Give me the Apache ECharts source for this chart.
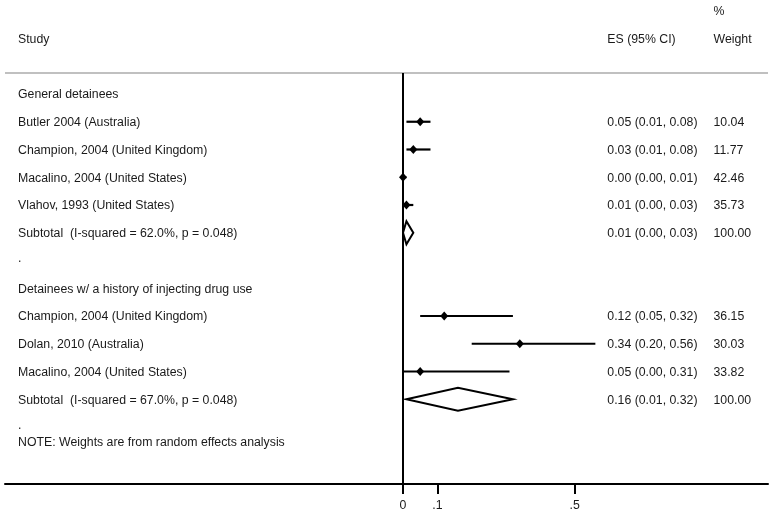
<!DOCTYPE html>
<html><head><meta charset="utf-8">
<script src="https://cdn.jsdelivr.net/npm/echarts@6/dist/echarts.min.js"></script>
<style>html,body{margin:0;padding:0;background:#fff}#c{width:774px;height:516px}</style>
</head><body><div id="c"></div><script>
// ---- data ----
const headerStudy = "Study";
const headerES = "ES (95% CI)";
const headerPct = "%";
const headerWeight = "Weight";
const groupTitles = ["General detainees", "Detainees w/ a history of injecting drug use"];
const studyLabels = [
  "Butler 2004 (Australia)",
  "Champion, 2004 (United Kingdom)",
  "Macalino, 2004 (United States)",
  "Vlahov, 1993 (United States)",
  "Champion, 2004 (United Kingdom)",
  "Dolan, 2010 (Australia)",
  "Macalino, 2004 (United States)"
];
const studyGroup = [0, 0, 0, 0, 1, 1, 1];
const studyES = [0.05, 0.03, 0.00, 0.01, 0.12, 0.34, 0.05];
const studyLo = [0.01, 0.01, 0.00, 0.00, 0.05, 0.20, 0.00];
const studyHi = [0.08, 0.08, 0.01, 0.03, 0.32, 0.56, 0.31];
const studyWeight = ["10.04", "11.77", "42.46", "35.73", "36.15", "30.03", "33.82"];
const subtotalLabels = ["Subtotal  (I-squared = 62.0%, p = 0.048)", "Subtotal  (I-squared = 67.0%, p = 0.048)"];
const subtotalES = [0.01, 0.16];
const subtotalLo = [0.00, 0.01];
const subtotalHi = [0.03, 0.32];
const subtotalWeight = ["100.00", "100.00"];
const noteText = "NOTE: Weights are from random effects analysis";
const tickValues = [0, 0.1, 0.5];
const tickLabels = ["0", ".1", ".5"];

// ---- layout constants ----
const X_MIN = -1.15866, X_MAX = 1.06259;
const Y_MIN = -3.387, Y_MAX = 14.054;
const COL_LEFT = -1.1208, COL_ES = 0.5948, COL_W = 0.904;
const HEADER_LINE_Y = -0.757;
const FONT = "Liberation Sans, Arial, sans-serif";
const FS = 12.3;
const TXT = "#1a1a1a";

// ---- build rows ----
const texts = []; // {x, y, t}
const studyPts = []; // [es, row, lo, hi]
const subPts = [];
texts.push({x: COL_LEFT, y: -2, t: headerStudy});
texts.push({x: COL_ES, y: -2, t: headerES});
texts.push({x: COL_W, y: -3, t: headerPct});
texts.push({x: COL_W, y: -2, t: headerWeight});
let row = 0;
for (let g = 0; g < groupTitles.length; g++) {
  texts.push({x: COL_LEFT, y: row, t: groupTitles[g]}); row++;
  for (let i = 0; i < studyLabels.length; i++) {
    if (studyGroup[i] !== g) continue;
    texts.push({x: COL_LEFT, y: row, t: studyLabels[i]});
    texts.push({x: COL_ES, y: row, t: studyES[i].toFixed(2) + " (" + studyLo[i].toFixed(2) + ", " + studyHi[i].toFixed(2) + ")"});
    texts.push({x: COL_W, y: row, t: studyWeight[i]});
    studyPts.push([studyES[i], row, studyLo[i], studyHi[i]]);
    row++;
  }
  texts.push({x: COL_LEFT, y: row, t: subtotalLabels[g]});
  texts.push({x: COL_ES, y: row, t: subtotalES[g].toFixed(2) + " (" + subtotalLo[g].toFixed(2) + ", " + subtotalHi[g].toFixed(2) + ")"});
  texts.push({x: COL_W, y: row, t: subtotalWeight[g]});
  subPts.push([subtotalES[g], row, subtotalLo[g], subtotalHi[g]]);
  row++;
  texts.push({x: COL_LEFT, y: row - 0.1, t: "."}); row++;
}
texts.push({x: COL_LEFT, y: row - 1 + 0.52, t: noteText});

const chart = echarts.init(document.getElementById('c'));
chart.setOption({
  animation: false,
  backgroundColor: '#fff',
  grid: {left: 5, right: 6, top: 0, bottom: 32},
  xAxis: {
    type: 'value', min: X_MIN, max: X_MAX,
    splitLine: {show: false},
    axisLine: {show: true, onZero: false, lineStyle: {color: '#000', width: 2}},
    axisTick: {show: true, customValues: tickValues, length: 10, lineStyle: {color: '#000', width: 2}},
    axisLabel: {show: true, customValues: tickValues, margin: 16, color: TXT, fontSize: FS, fontFamily: FONT,
      formatter: function (v) { const k = tickValues.findIndex(t => Math.abs(t - v) < 1e-9); return k >= 0 ? tickLabels[k] : ''; }}
  },
  yAxis: {
    type: 'value', min: Y_MIN, max: Y_MAX, inverse: true, show: false, splitLine: {show: false}
  },
  series: [
    { // header rule
      type: 'line', data: [[X_MIN, HEADER_LINE_Y], [X_MAX, HEADER_LINE_Y]], symbol: 'none',
      lineStyle: {color: '#c0c0c0', width: 2}, silent: true, z: 1
    },
    { // null line
      type: 'line', data: [[0, HEADER_LINE_Y], [0, Y_MAX]], symbol: 'none',
      lineStyle: {color: '#000', width: 2}, silent: true, z: 2
    },
    { // studies
      type: 'custom', data: studyPts, z: 3,
      renderItem: function (params, api) {
        const c = api.coord([api.value(0), api.value(1)]);
        const a = api.coord([api.value(2), api.value(1)]);
        const b = api.coord([api.value(3), api.value(1)]);
        const hw = 4, hh = 4.6;
        return {type: 'group', children: [
          {type: 'line', shape: {x1: a[0], y1: a[1], x2: b[0], y2: b[1]}, style: {stroke: '#000', lineWidth: 2.2}},
          {type: 'polygon', shape: {points: [[c[0] - hw, c[1]], [c[0], c[1] - hh], [c[0] + hw, c[1]], [c[0], c[1] + hh]]}, style: {fill: '#000'}}
        ]};
      }
    },
    { // subtotal diamonds
      type: 'custom', data: subPts, z: 3,
      renderItem: function (params, api) {
        const c = api.coord([api.value(0), api.value(1)]);
        const a = api.coord([api.value(2), api.value(1)]);
        const b = api.coord([api.value(3), api.value(1)]);
        const hh = 11.5;
        return {type: 'polygon', shape: {points: [[a[0], c[1]], [c[0], c[1] - hh], [b[0], c[1]], [c[0], c[1] + hh]]},
          style: {fill: 'none', stroke: '#000', lineWidth: 2}};
      }
    },
    { // text
      type: 'custom', data: texts.map(d => [d.x, d.y]), z: 4,
      renderItem: function (params, api) {
        const p = api.coord([api.value(0), api.value(1)]);
        return {type: 'text', x: p[0], y: p[1] + 1, style: {text: texts[params.dataIndex].t, fill: TXT,
          fontSize: FS, fontFamily: FONT, align: 'left', verticalAlign: 'middle'}};
      }
    }
  ]
});
</script></body></html>
